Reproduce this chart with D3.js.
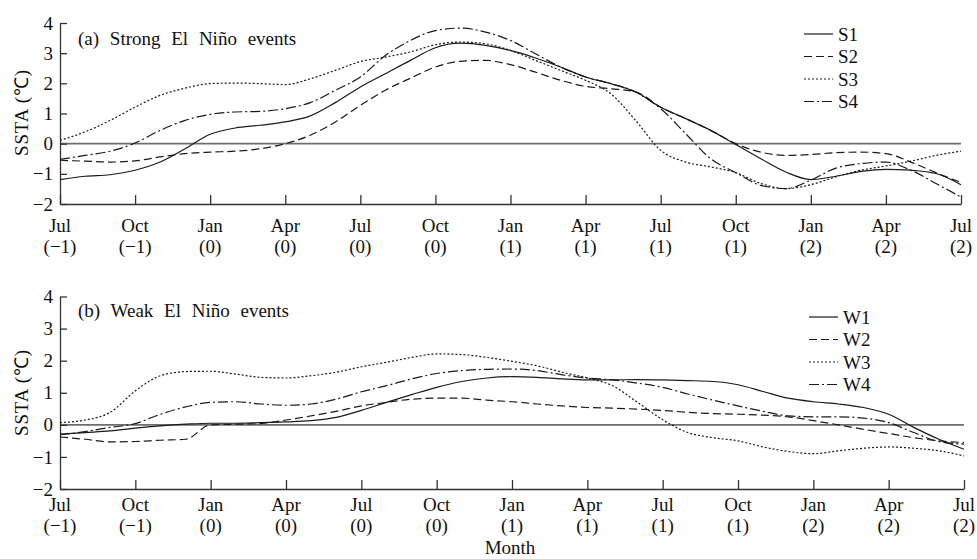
<!DOCTYPE html>
<html>
<head>
<meta charset="utf-8">
<script src="https://cdn.jsdelivr.net/npm/d3@7"></script>
<style>
  body { margin: 0; background: #fff; }
  svg text { font-family: "Liberation Serif", "Times New Roman", serif; fill: #111; }
</style>
</head>
<body>
<svg id="chart" width="977" height="559"></svg>
<script>
// Month axis: index 0 = Jul(-1) ... 36 = Jul(2), ticks every 3 months
const tickMonths = ['Jul', 'Oct', 'Jan', 'Apr', 'Jul', 'Oct', 'Jan', 'Apr', 'Jul', 'Oct', 'Jan', 'Apr', 'Jul'];
const tickYears = ['(\u22121)', '(\u22121)', '(0)', '(0)', '(0)', '(0)', '(1)', '(1)', '(1)', '(1)', '(2)', '(2)', '(2)'];
const yTicks = [-2, -1, 0, 1, 2, 3, 4];

// Strong El Nino events (monthly SSTA)
const strongS1 = [-1.19, -1.08, -1.03, -0.88, -0.61, -0.17, 0.31, 0.52, 0.61, 0.72, 0.92, 1.36, 1.88,
  2.32, 2.76, 3.18, 3.33, 3.26, 3.09, 2.84, 2.54, 2.21, 1.99, 1.71, 1.21,
  0.83, 0.44, -0.03, -0.5, -0.94, -1.19, -1.08, -0.92, -0.85, -0.88, -0.99, -1.36];
const strongS2 = [-0.55, -0.58, -0.61, -0.57, -0.44, -0.33, -0.28, -0.25, -0.17, 0.0, 0.28, 0.72, 1.27,
  1.77, 2.17, 2.54, 2.73, 2.76, 2.62, 2.37, 2.1, 1.9, 1.82, 1.72, 1.21,
  0.83, 0.44, 0.0, -0.28, -0.39, -0.36, -0.3, -0.28, -0.33, -0.61, -0.96, -1.29];
const strongS3 = [0.11, 0.39, 0.77, 1.21, 1.6, 1.84, 1.99, 2.01, 1.99, 1.96, 2.15, 2.43, 2.72,
  2.87, 3.04, 3.28, 3.37, 3.31, 3.09, 2.76, 2.43, 2.1, 1.66, 0.77, -0.22,
  -0.61, -0.77, -0.96, -1.32, -1.49, -1.36, -1.1, -0.88, -0.74, -0.58, -0.39, -0.25];
const strongS4 = [-0.52, -0.39, -0.25, 0.02, 0.44, 0.77, 0.97, 1.05, 1.07, 1.16, 1.36, 1.77, 2.21,
  2.92, 3.42, 3.75, 3.83, 3.7, 3.42, 2.98, 2.54, 2.21, 1.99, 1.71, 1.16,
  0.33, -0.5, -0.96, -1.38, -1.49, -1.21, -0.81, -0.66, -0.61, -0.88, -1.32, -1.77];

// Weak El Nino events
const weakW1 = [-0.29, -0.24, -0.19, -0.1, -0.03, 0.02, 0.05, 0.05, 0.07, 0.09, 0.13, 0.23, 0.45,
  0.7, 0.94, 1.17, 1.35, 1.46, 1.5, 1.48, 1.43, 1.4, 1.4, 1.41, 1.4,
  1.38, 1.35, 1.25, 1.04, 0.83, 0.72, 0.65, 0.54, 0.33, -0.08, -0.45, -0.76];
const weakW2 = [-0.38, -0.45, -0.53, -0.52, -0.48, -0.45, 0.0, 0.02, 0.04, 0.15, 0.28, 0.42, 0.59,
  0.7, 0.8, 0.83, 0.83, 0.77, 0.72, 0.65, 0.59, 0.54, 0.52, 0.49, 0.45,
  0.39, 0.35, 0.33, 0.3, 0.25, 0.13, 0.0, -0.14, -0.27, -0.4, -0.5, -0.55];
const weakW3 = [0.07, 0.15, 0.39, 1.06, 1.53, 1.66, 1.67, 1.58, 1.48, 1.46, 1.53, 1.64, 1.81,
  1.95, 2.1, 2.21, 2.19, 2.1, 1.98, 1.84, 1.64, 1.46, 1.22, 0.7, 0.16,
  -0.24, -0.4, -0.5, -0.69, -0.83, -0.9, -0.81, -0.73, -0.69, -0.73, -0.81, -0.97];
const weakW4 = [-0.31, -0.21, -0.08, 0.04, 0.33, 0.56, 0.7, 0.72, 0.65, 0.61, 0.65, 0.8, 1.03,
  1.22, 1.43, 1.6, 1.69, 1.73, 1.74, 1.69, 1.56, 1.46, 1.4, 1.3, 1.17,
  0.96, 0.77, 0.59, 0.42, 0.28, 0.25, 0.25, 0.21, 0.07, -0.24, -0.52, -0.6];

const dashes = ['none', '8,4', '2,2', '10,3,2,3'];

const panels = [
  {
    title: '(a) Strong El Ni\u00f1o events',
    names: ['S1', 'S2', 'S3', 'S4'],
    series: [strongS1, strongS2, strongS3, strongS4],
    xRange: [60, 961], yRange: [204, 23],
    label1: 232, label2: 253, titleY: 45, ytitleY: 113,
    legendX: 804, legendY: 34
  },
  {
    title: '(b) Weak El Ni\u00f1o events',
    names: ['W1', 'W2', 'W3', 'W4'],
    series: [weakW1, weakW2, weakW3, weakW4],
    xRange: [60, 964], yRange: [489, 296.5],
    label1: 511, label2: 532, titleY: 317, ytitleY: 393,
    legendX: 809, legendY: 317
  }
];

const svg = d3.select('#chart');
const fontSize = 19;

panels.forEach(p => {
  const x = d3.scaleLinear().domain([0, 36]).range(p.xRange);
  const y = d3.scaleLinear().domain([-2, 4]).range(p.yRange);
  const g = svg.append('g');

  // zero line
  g.append('line')
    .attr('x1', x(0)).attr('x2', x(36))
    .attr('y1', y(0)).attr('y2', y(0))
    .attr('stroke', '#6e6e6e').attr('stroke-width', 1.6);

  // left axis, ticks pointing inward
  const yAxis = g.append('g')
    .attr('transform', `translate(${x(0)},0)`)
    .call(d3.axisLeft(y).tickValues(yTicks).tickFormat(d3.format('d'))
      .tickSizeInner(-7).tickSizeOuter(0).tickPadding(7));
  yAxis.selectAll('text').attr('font-size', fontSize);

  // bottom axis, ticks pointing up
  const xAxis = g.append('g')
    .attr('transform', `translate(0,${y(-2)})`)
    .call(d3.axisBottom(x).tickValues(d3.range(0, 37, 3)).tickSizeInner(-9).tickSizeOuter(0).tickFormat(''));

  [yAxis, xAxis].forEach(a => {
    a.style('color', '#333');
    a.selectAll('path, line').attr('stroke-width', 1.3);
  });

  d3.range(0, 37, 3).forEach((m, i) => {
    g.append('text').attr('x', x(m)).attr('y', p.label1)
      .attr('text-anchor', 'middle').attr('font-size', fontSize).text(tickMonths[i]);
    g.append('text').attr('x', x(m)).attr('y', p.label2)
      .attr('text-anchor', 'middle').attr('font-size', fontSize).text(tickYears[i]);
  });

  // y title
  g.append('text')
    .attr('transform', `translate(28,${p.ytitleY}) rotate(-90)`)
    .attr('text-anchor', 'middle').attr('font-size', fontSize)
    .attr('textLength', 86).attr('lengthAdjust', 'spacing')
    .text('SSTA (\u2103)');

  // panel title
  g.append('text').attr('x', 78).attr('y', p.titleY)
    .attr('font-size', fontSize).style('word-spacing', '6px')
    .text(p.title);

  // curves
  const line = d3.line()
    .x((d, i) => x(i))
    .y(d => y(d))
    .curve(d3.curveMonotoneX);

  p.series.forEach((s, k) => {
    g.append('path')
      .datum(s)
      .attr('d', line)
      .attr('fill', 'none')
      .attr('stroke', '#1a1a1a')
      .attr('stroke-width', 1.2)
      .attr('stroke-dasharray', dashes[k]);
  });

  // legend
  p.names.forEach((n, k) => {
    const ly = p.legendY + k * 22.5;
    g.append('line')
      .attr('x1', p.legendX).attr('x2', p.legendX + 29)
      .attr('y1', ly).attr('y2', ly)
      .attr('stroke', '#1a1a1a').attr('stroke-width', 1.2)
      .attr('stroke-dasharray', dashes[k]);
    g.append('text').attr('x', p.legendX + 34).attr('y', ly + 6.5)
      .attr('font-size', fontSize).text(n);
  });
});

svg.append('text').attr('x', 510).attr('y', 554)
  .attr('text-anchor', 'middle').attr('font-size', fontSize).text('Month');
</script>
</body>
</html>
